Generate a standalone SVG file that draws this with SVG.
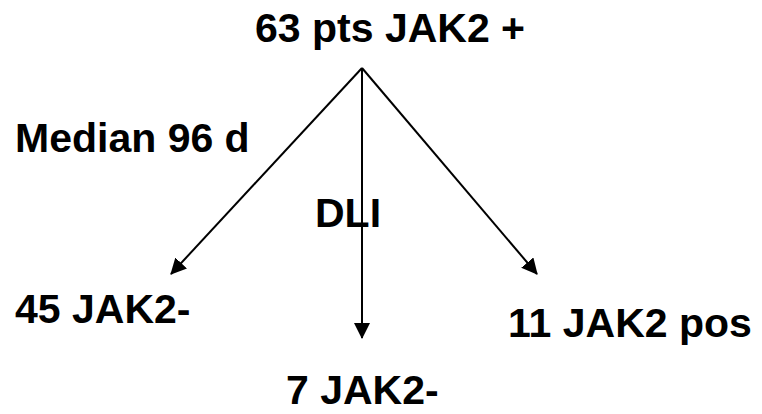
<svg xmlns="http://www.w3.org/2000/svg" width="762" height="414" viewBox="0 0 762 414">
  <defs>
    <marker id="arrow" viewBox="0 0 16 16" refX="15" refY="8" markerWidth="16" markerHeight="16" markerUnits="userSpaceOnUse" orient="auto">
      <path d="M0,0 L16,8 L0,16 z" fill="#000"/>
    </marker>
    <style>
      .label { font-family: "Liberation Sans", Arial, sans-serif; font-weight: bold; font-size: 41px; fill: #000; }
      .edge { stroke: #000; stroke-width: 2; fill: none; marker-end: url(#arrow); }
    </style>
  </defs>
  <rect width="762" height="414" fill="#fff"/>

  <g id="connectors">
    <line class="edge" x1="362" y1="68" x2="171" y2="274"/>
    <line class="edge" x1="362" y1="68" x2="362" y2="338"/>
    <line class="edge" x1="362" y1="68" x2="537" y2="274"/>
  </g>

  <g id="node-root">
    <text class="label" x="255" y="42">63 pts JAK2 +</text>
  </g>
  <g id="label-median">
    <text class="label" x="15" y="152">Median 96 d</text>
  </g>
  <g id="label-dli">
    <text class="label" x="315" y="227">DLI</text>
  </g>
  <g id="node-left">
    <text class="label" x="15" y="323">45 JAK2-</text>
  </g>
  <g id="node-middle">
    <text class="label" x="286" y="404">7 JAK2-</text>
  </g>
  <g id="node-right">
    <text class="label" x="508" y="337">11 JAK2 pos</text>
  </g>
</svg>
